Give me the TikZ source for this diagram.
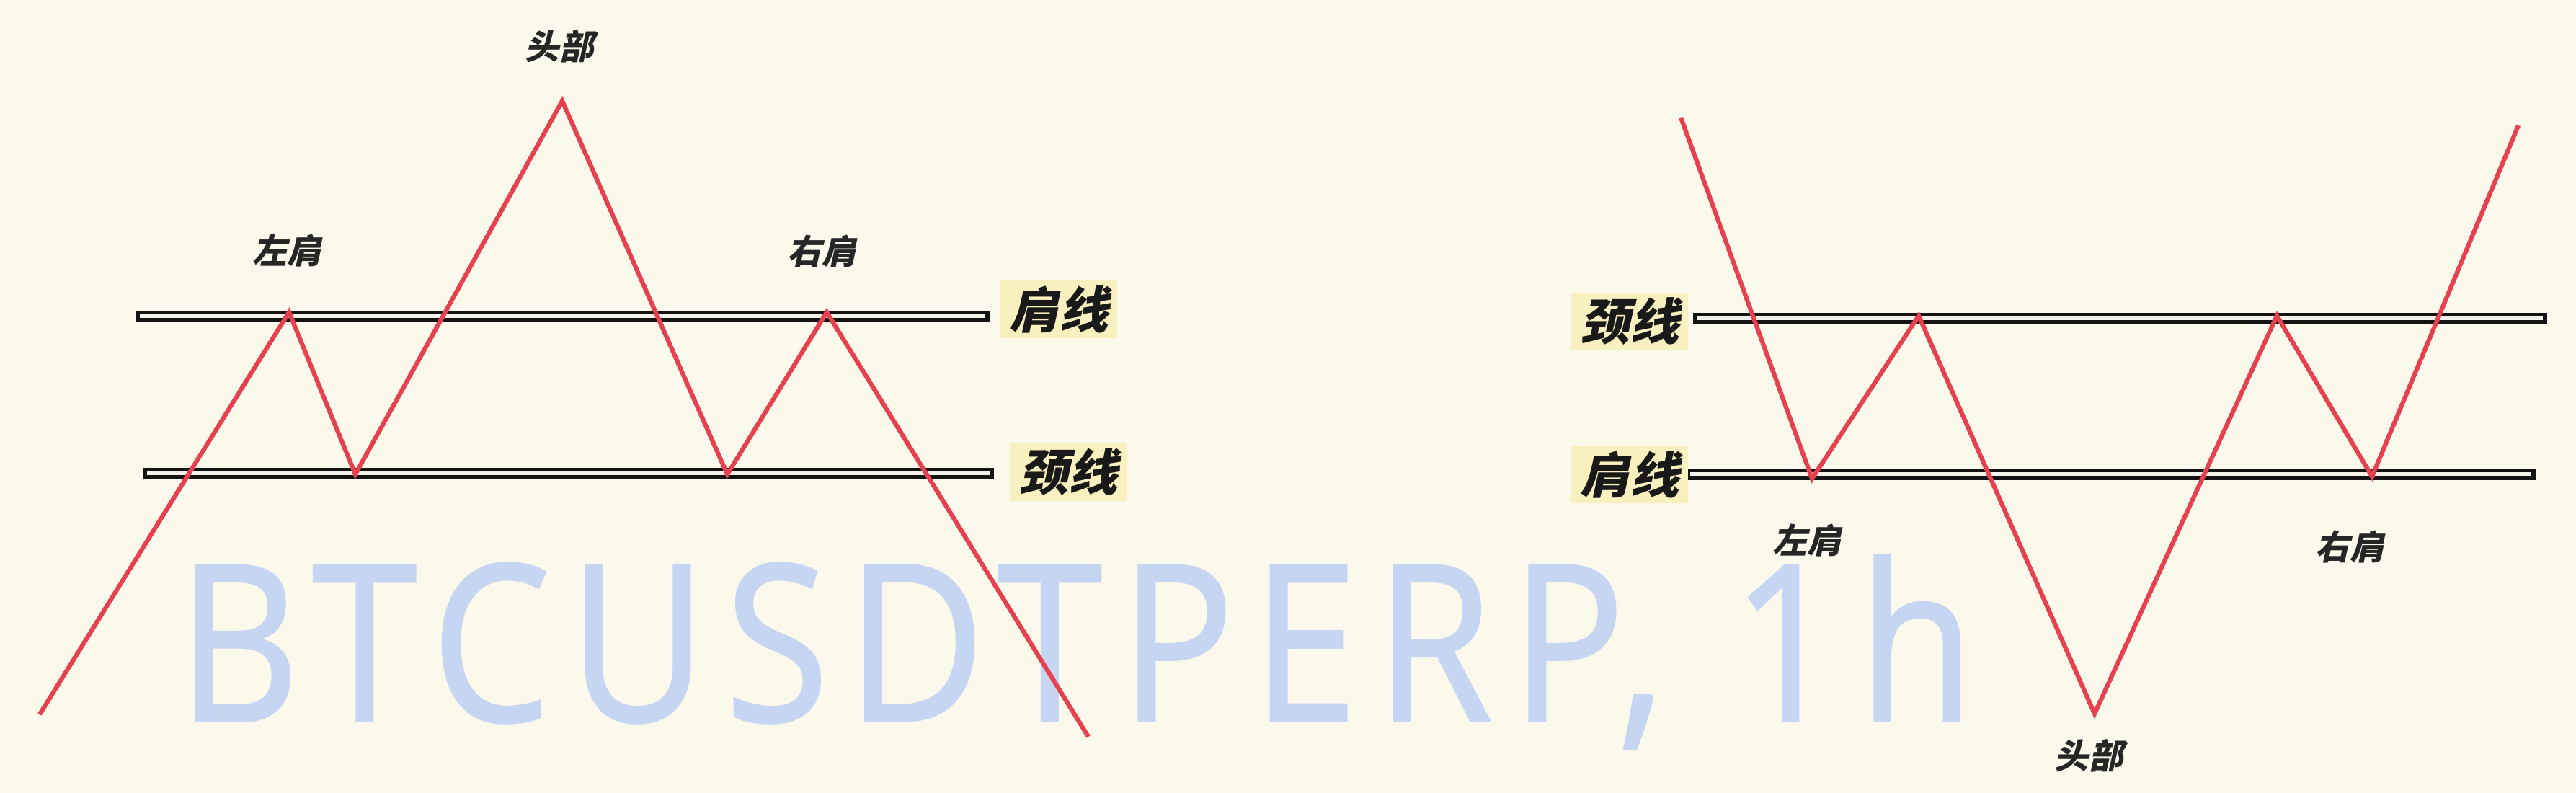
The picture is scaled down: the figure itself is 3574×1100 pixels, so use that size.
\documentclass[tikz,border=0pt]{standalone}
\usepackage{fontspec}
\newfontfamily\cjk{Noto Sans CJK SC}[FakeSlant=0.22]
\newfontfamily\wmfont{Open Sans}[LetterSpace=9.5,FakeBold=1.2]
\definecolor{bgcol}{HTML}{FBF8EC}
\definecolor{redline}{HTML}{E5414F}
\definecolor{barfill}{HTML}{F3F1EA}
\definecolor{hilite}{HTML}{F8F0BF}
\definecolor{wmcol}{HTML}{C6D5F2}
\tikzset{
  pattern/.style={draw=redline, line width=0.62mm, line join=miter},
  bar/.style={draw=black!92, line width=0.55mm, fill=barfill},
  small/.style={font=\cjk\bfseries\fontsize{13.5pt}{14pt}\selectfont, text=black!85, inner sep=0pt},
  big/.style={font=\cjk\bfseries\fontsize{19.5pt}{20pt}\selectfont, text=black!90, fill=hilite, inner sep=0pt, minimum width=16.2mm, minimum height=8mm},
  wm/.style={font=\wmfont\fontsize{86pt}{90pt}\selectfont, text=wmcol, inner sep=0pt, anchor=base west, xscale=0.87}
}
\begin{document}
\begin{tikzpicture}[x=0.1mm, y=-0.1mm]
\fill[bgcol] (0,0) rectangle (3574,1100);
\useasboundingbox (0,0) rectangle (3574,1100);

% watermark
\node[wm] (wmark) at (245,1000) {BTCUSDTPERP, 1h};

% ---------- left: head and shoulders top ----------
\draw[bar] (191,433.75) rectangle (1370,444.25);
\draw[bar] (201,651.75) rectangle (1376,662.25);

\coordinate (La) at (55,991);
\coordinate (Lb) at (401,433);
\coordinate (Lc) at (493,658);
\coordinate (Ld) at (780,140);
\coordinate (Le) at (1009,658);
\coordinate (Lf) at (1147,433);
\coordinate (Lg) at (1510,1022);
\draw[pattern] (La) -- (Lb) -- (Lc) -- (Ld) -- (Le) -- (Lf) -- (Lg);

\node[small] (lhead) at (776,64) {头部};
\node[small] (lls) at (398,348) {左肩};
\node[small] (lrs) at (1140,349) {右肩};
\node[big] (lshoulder) at (1469,429) {肩线};
\node[big] (lneck) at (1482,655) {颈线};

% ---------- right: inverse head and shoulders ----------
\draw[bar] (2352,436.75) rectangle (3531,447.25);
\draw[bar] (2342,652.75) rectangle (3515,663.25);

\coordinate (Ra) at (2332,163);
\coordinate (Rb) at (2514,664);
\coordinate (Rc) at (2662,438);
\coordinate (Rd) at (2906,990);
\coordinate (Re) at (3159,438);
\coordinate (Rf) at (3291,661);
\coordinate (Rg) at (3494,174);
\draw[pattern] (Ra) -- (Rb) -- (Rc) -- (Rd) -- (Re) -- (Rf) -- (Rg);

\node[big] (rneck) at (2261,446) {颈线};
\node[big] (rshoulder) at (2261,658) {肩线};
\node[small] (rls) at (2507,749) {左肩};
\node[small] (rrs) at (3260,758) {右肩};
\node[small] (rhead) at (2898,1048) {头部};
\end{tikzpicture}
\end{document}
